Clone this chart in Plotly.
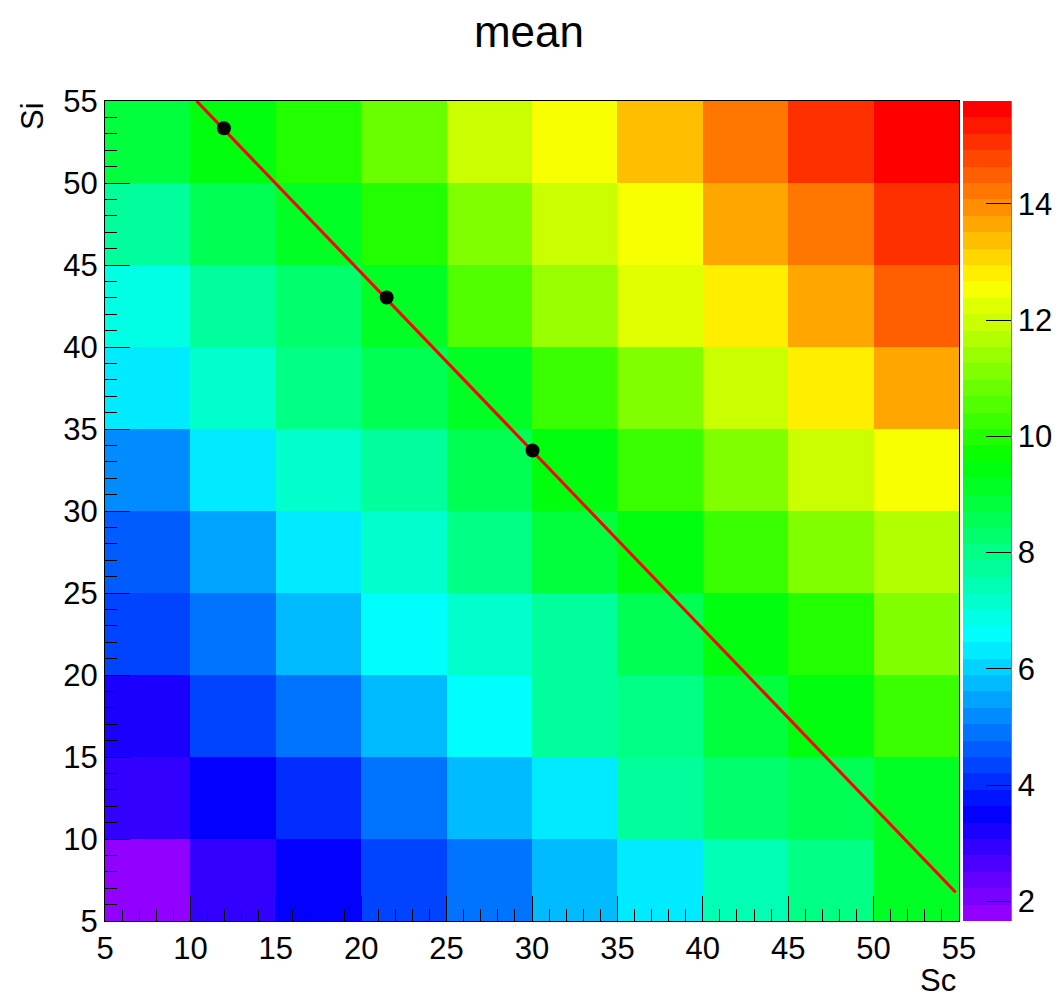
import colorsys
import plotly.graph_objects as go

# ---------------- data ----------------
sc_centers = [7.5, 12.5, 17.5, 22.5, 27.5, 32.5, 37.5, 42.5, 47.5, 52.5]
si_centers = [7.5, 12.5, 17.5, 22.5, 27.5, 32.5, 37.5, 42.5, 47.5, 52.5]

# rows: Si bins from bottom (7.5) to top (52.5); columns: Sc bins 7.5 .. 52.5
mean_values = [
    [1.66, 2.85, 3.60, 4.30, 4.95, 5.70, 6.40, 7.40, 8.10, 9.20],
    [2.90, 3.50, 4.00, 4.85, 5.70, 6.40, 7.60, 8.30, 8.60, 9.20],
    [3.25, 4.30, 4.95, 5.70, 6.60, 7.60, 8.00, 8.80, 9.40, 10.30],
    [4.30, 4.85, 5.70, 6.50, 7.20, 7.80, 8.60, 9.40, 10.10, 11.00],
    [4.75, 5.40, 6.20, 7.30, 7.90, 8.80, 9.40, 10.30, 11.00, 11.80],
    [5.30, 6.20, 7.20, 7.80, 8.60, 9.40, 10.30, 11.10, 11.90, 12.50],
    [6.25, 7.20, 7.90, 8.50, 9.20, 10.30, 11.10, 12.00, 12.80, 13.70],
    [7.00, 7.80, 8.40, 9.20, 10.60, 11.40, 12.20, 12.80, 13.60, 14.40],
    [7.80, 8.60, 9.20, 10.10, 11.10, 11.95, 12.45, 13.60, 14.20, 14.95],
    [8.80, 9.40, 10.00, 10.80, 11.85, 12.40, 13.50, 14.30, 14.95, 15.77],
]

line_x = [10.36, 54.8]
line_y = [55.0, 6.75]

point_x = [11.96, 21.49, 30.03]
point_y = [53.34, 43.02, 33.69]

x_ticks = [5, 10, 15, 20, 25, 30, 35, 40, 45, 50, 55]
y_ticks = [5, 10, 15, 20, 25, 30, 35, 40, 45, 50, 55]
z_ticks = [2, 4, 6, 8, 10, 12, 14]
z_min, z_max = 1.66, 15.77

# ---------------- ROOT "pretty" palette (50 colours violet -> red) ----------------
ncol = 50
palette = []
for k in range(ncol):
    hue = 280 - 5.6 * (k + 1) if k < ncol - 1 else 0.0
    r, g, b = colorsys.hls_to_rgb(hue / 360.0, 0.5, 1.0)
    palette.append(f"rgb({round(r*255)},{round(g*255)},{round(b*255)})")
colorscale = []
for k, c in enumerate(palette):
    colorscale.append([k / ncol, c])
    colorscale.append([(k + 1) / ncol, c])

FONT = "Liberation Sans, Arial, Helvetica, sans-serif"

L, R, T, B = 105, 99, 101, 77
W, H = 1058, 998
pw = W - L - R
ph = H - T - B

fig = go.Figure()
fig.add_trace(go.Heatmap(
    x=sc_centers, y=si_centers, z=mean_values,
    zmin=z_min, zmax=z_max, colorscale=colorscale,
    colorbar=dict(
        thickness=48, thicknessmode="pixels",
        len=1, lenmode="fraction",
        x=(963 - L) / pw, xanchor="left", xpad=0,
        y=0.5, yanchor="middle", ypad=0,
        outlinewidth=0,
        tickvals=z_ticks, ticks="inside", ticklen=25, tickwidth=1,
        tickcolor="black",
        tickfont=dict(size=31, color="black", family=FONT),
    ),
    hoverinfo="skip",
))
fig.add_trace(go.Scatter(
    x=line_x, y=line_y, mode="lines",
    line=dict(color="#ff0000", width=3), showlegend=False, hoverinfo="skip",
))
fig.add_trace(go.Scatter(
    x=point_x, y=point_y, mode="markers",
    marker=dict(color="black", size=14), showlegend=False, hoverinfo="skip",
))

axis_common = dict(
    range=[5, 55], tickmode="array", ticks="inside", ticklen=25, tickwidth=1,
    tickcolor="black", showline=True, linecolor="black", linewidth=1, mirror=True,
    showgrid=False, zeroline=False,
    tickfont=dict(size=31, color="black", family=FONT),
    minor=dict(dtick=1, tick0=5, ticks="inside", ticklen=12, tickwidth=1,
               tickcolor="black", showgrid=False),
)
fig.update_xaxes(tickvals=x_ticks, **axis_common)
fig.update_yaxes(tickvals=y_ticks, **axis_common)

fig.update_layout(
    width=W, height=H,
    margin=dict(l=L, r=R, t=T, b=B, pad=0, autoexpand=False),
    plot_bgcolor="white", paper_bgcolor="white",
    font=dict(family=FONT, size=31, color="black"),
    showlegend=False,
    title=dict(text="mean", x=0.5, xref="container", xanchor="center",
               y=1 - 32 / H, yref="container", yanchor="middle",
               font=dict(size=44, color="black", family=FONT)),
    shapes=[dict(type="line", xref="paper", yref="paper",
                 x0=(1011 - L) / pw, x1=(1011 - L) / pw, y0=0, y1=1,
                 line=dict(color="black", width=1))],
    annotations=[
        dict(text="Si", xref="paper", yref="paper",
             x=(32 - L) / pw, y=(H - B - 116) / ph,
             xanchor="center", yanchor="middle", textangle=-90, showarrow=False,
             font=dict(size=31, color="black", family=FONT)),
        dict(text="Sc", xref="paper", yref="paper",
             x=(938 - L) / pw, y=(H - B - 980) / ph,
             xanchor="center", yanchor="middle", showarrow=False,
             font=dict(size=31, color="black", family=FONT)),
    ],
)

fig.write_html("out.html")
